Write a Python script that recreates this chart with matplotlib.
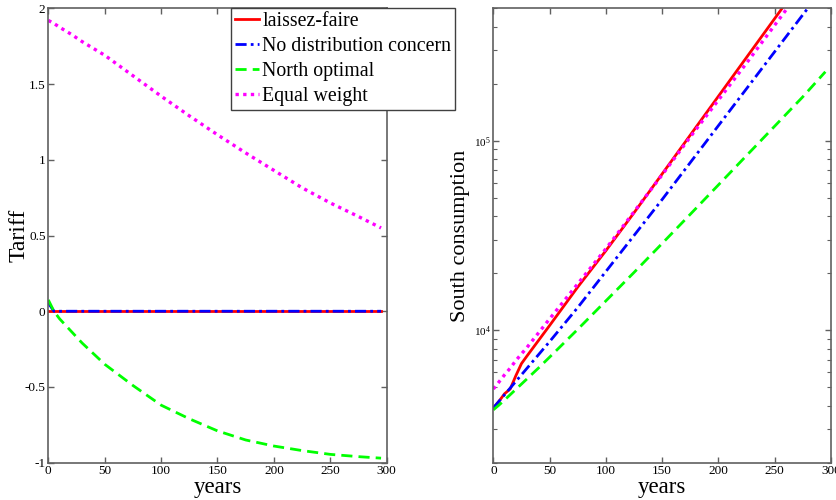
import numpy as np
import matplotlib
matplotlib.use("Agg")
import matplotlib.pyplot as plt
from matplotlib.ticker import LogLocator, LogFormatterMathtext, NullFormatter, MultipleLocator, FuncFormatter

plt.rcParams['font.family'] = ['Liberation Serif', 'DejaVu Serif']
plt.rcParams['mathtext.fontset'] = 'stix'

# ---------------- data ----------------
labels = ["laissez-faire", "No distribution concern", "North optimal", "Equal weight"]

years_tariff = [0, 5, 10, 20, 30, 40, 50, 75, 100, 125, 150, 175, 200, 225, 250, 275, 295]
tariff_laissez = [0.0] * len(years_tariff)
tariff_nodist = [0.055, 0.0, 0.0, 0.0, 0.0, 0.0, 0.0, 0.0, 0.0, 0.0, 0.0, 0.0, 0.0, 0.0, 0.0, 0.0, 0.0]
tariff_north = [0.075, 0.0, -0.05, -0.13, -0.21, -0.28, -0.35, -0.49, -0.62, -0.71, -0.79,
                -0.85, -0.89, -0.92, -0.945, -0.96, -0.97]
tariff_equal = [1.92, 1.90, 1.875, 1.83, 1.78, 1.735, 1.69, 1.555, 1.42, 1.29, 1.165,
                1.045, 0.93, 0.815, 0.715, 0.625, 0.55]

years_cons = [0, 5, 10, 15, 20, 25, 30, 40, 50, 75, 100, 125, 150, 175, 200, 225, 250, 275, 295]
log_cons_laissez = [3.59, 3.625, 3.665, 3.69, 3.76, 3.824, 3.865, 3.945, 4.025, 4.228, 4.42,
                    4.62, 4.825, 5.03, 5.235, 5.44, 5.645, 5.85, 6.01]
log_cons_nodist = [3.59, 3.625, 3.66, 3.695, 3.73, 3.765, 3.80, 3.87, 3.94, 4.12, 4.31,
                   4.50, 4.69, 4.885, 5.08, 5.275, 5.47, 5.665, 5.82]
log_cons_north = [3.58, 3.605, 3.632, 3.66, 3.688, 3.716, 3.744, 3.80, 3.858, 4.005, 4.155,
                  4.305, 4.458, 4.612, 4.767, 4.922, 5.077, 5.232, 5.364]
log_cons_equal = [3.69, 3.727, 3.765, 3.80, 3.84, 3.875, 3.91, 3.985, 4.06, 4.245, 4.43,
                  4.625, 4.82, 5.02, 5.215, 5.41, 5.61, 5.81, 5.97]

# ---------------- styles ----------------
colors = ['#ff0000', '#0000ff', '#00ff00', '#ff00ff']
styles = ['-', (0, (4, 1.5, 1, 1.5)), (0, (4, 2.2)), (0, (1, 1.3))]
widths = [2.0, 2.0, 2.0, 2.4]
spine_col = '#606060'

fig = plt.figure(figsize=(8.37, 5.0), dpi=100)
axL = fig.add_axes([0.0577, 0.0746, 0.4043, 0.9088])
axR = fig.add_axes([0.5894, 0.0746, 0.4034, 0.9088])

tariffs = [tariff_laissez, tariff_nodist, tariff_north, tariff_equal]
cons = [log_cons_laissez, log_cons_nodist, log_cons_north, log_cons_equal]

handles = []
for i in range(4):
    h, = axL.plot(years_tariff, tariffs[i], color=colors[i], linestyle=styles[i],
                  linewidth=widths[i], label=labels[i])
    handles.append(h)
    axR.plot(years_cons, 10 ** np.array(cons[i]), color=colors[i], linestyle=styles[i],
             linewidth=widths[i])

# left axes
axL.set_xlim(0, 300)
axL.set_ylim(-1, 2)
axL.xaxis.set_major_locator(MultipleLocator(50))
axL.yaxis.set_major_locator(MultipleLocator(0.5))
axL.yaxis.set_major_formatter(FuncFormatter(lambda v, p: ('%g' % v)))
axL.set_ylabel('Tariff', fontsize=17)
axL.yaxis.set_label_coords(-0.054, 0.5)
axL.set_xlabel('years', fontsize=16.5)
axL.xaxis.set_label_coords(0.5, -0.031)

# right axes
axR.set_yscale('log')
axR.set_xlim(0, 300)
axR.set_ylim(2000, 5e5)
axR.xaxis.set_major_locator(MultipleLocator(50))
axR.yaxis.set_major_locator(LogLocator(base=10))
axR.yaxis.set_major_formatter(LogFormatterMathtext())
axR.yaxis.set_minor_locator(LogLocator(base=10, subs=np.arange(2, 10)))
axR.yaxis.set_minor_formatter(NullFormatter())
axR.set_ylabel('South consumption', fontsize=16)
axR.yaxis.set_label_coords(-0.068, 0.5)
axR.set_xlabel('years', fontsize=16.5)
axR.xaxis.set_label_coords(0.5, -0.031)

for ax in (axL, axR):
    for s in ax.spines.values():
        s.set_color(spine_col)
        s.set_linewidth(1.2)
    ax.tick_params(which='both', direction='in', top=True, right=True, color=spine_col,
                   labelsize=9.5, pad=2)
    ax.tick_params(which='major', length=4.5, width=1)
    ax.tick_params(which='minor', length=3, width=0.8)
axR.tick_params(axis='y', which='major', labelsize=8)

fig.legend(handles=handles, labels=labels, loc='upper left',
           bbox_to_anchor=(231.5 / 837, 1 - 8.3 / 500), fontsize=14.3, frameon=True,
           fancybox=False, edgecolor='#404040', framealpha=1, borderpad=0.2,
           handlelength=1.2, handletextpad=0.15, labelspacing=0.3, borderaxespad=0)

fig.savefig('out.png', dpi=100)
